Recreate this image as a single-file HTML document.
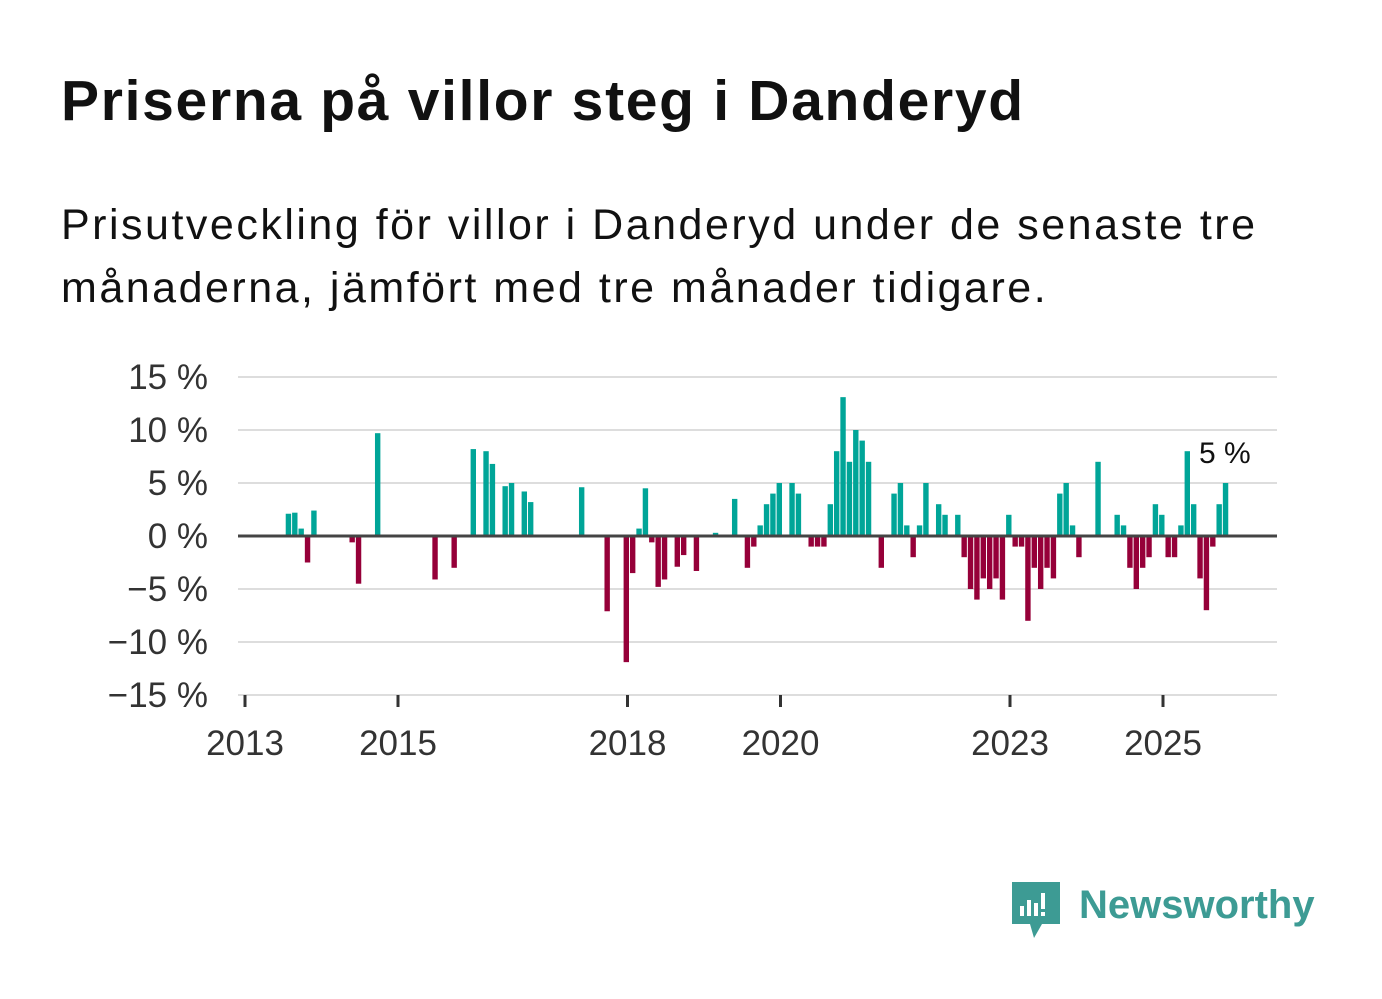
<!DOCTYPE html>
<html><head><meta charset="utf-8"><style>
body{margin:0;width:1382px;height:999px;background:#fff;font-family:"Liberation Sans",sans-serif;overflow:hidden}
h1{position:absolute;left:61px;top:68px;margin:0;font-size:57px;font-weight:bold;color:#111;letter-spacing:1.7px;white-space:nowrap}
p{position:absolute;left:61px;top:194px;margin:0;font-size:43px;line-height:63px;color:#111;width:1310px;letter-spacing:2.5px;white-space:nowrap}
svg{position:absolute;left:0;top:0}
</style></head><body>
<h1>Priserna på villor steg i Danderyd</h1>
<p>Prisutveckling för villor i Danderyd under de senaste tre<br>månaderna, jämfört med tre månader tidigare.</p>
<svg id="c" width="1382" height="999"></svg>
<script>
const months=[7,8,9,10,11,17,18,21,30,33,36,38,39,41,42,44,45,53,57,60,61,62,63,64,65,66,68,69,71,74,77,79,80,81,82,83,84,86,87,89,90,91,92,93,94,95,96,97,98,100,102,103,104,105,106,107,109,110,112,113,114,115,116,117,118,119,120,121,122,123,124,125,126,127,128,129,130,131,134,137,138,139,140,141,142,143,144,145,146,147,148,149,150,151,152,153,154];
const values=[2.1,2.2,0.7,-2.5,2.4,-0.6,-4.5,9.7,-4.1,-3,8.2,8,6.8,4.7,5,4.2,3.2,4.6,-7.1,-11.9,-3.5,0.7,4.5,-0.6,-4.8,-4.1,-2.9,-1.8,-3.3,0.3,3.5,-3,-1,1,3,4,5,5,4,-1,-1,-1,3,8,13.1,7,10,9,7,-3,4,5,1,-2,1,5,3,2,2,-2,-5,-6,-4,-5,-4,-6,2,-1,-1,-8,-3,-5,-3,-4,4,5,1,-2,7,2,1,-3,-5,-3,-2,3,2,-2,-2,1,8,3,-4,-7,-1,3,5];
const yTicks=[15,10,5,0,-5,-10,-15];
const yLabels=["15 %","10 %","5 %","0 %","\u22125 %","\u221210 %","\u221215 %"];
const xYears=[2013,2015,2018,2020,2023,2025];
const svg=document.getElementById('c');const NS='http://www.w3.org/2000/svg';
const y=v=>536-v*10.6;
const x=m=>245+m*6.375-1.2;
const xy=yr=>245+(yr-2013)*76.5;
function mk(t,a){const e=document.createElementNS(NS,t);for(const k in a)e.setAttribute(k,a[k]);svg.appendChild(e);return e;}
yTicks.forEach((v,i)=>{
 const l=mk('line',{x1:238,x2:1277,y1:y(v),y2:y(v),stroke:'#dddddd','stroke-width':2});
 
 
 const t=mk('text',{x:208,y:y(v)+12,'text-anchor':'end','font-size':35,fill:'#333','font-family':'Liberation Sans, sans-serif'});
 t.textContent=yLabels[i];
 
 
});
months.forEach((m,i)=>{
 const v=values[i];
 const r=mk('rect',{x:x(m)-2.7,width:5.4,y:v>=0?y(v):y(0),height:Math.abs(y(v)-y(0)),fill:v>=0?'#00a598':'#960039'});
 
 
});
const z=mk('line',{x1:238,x2:1277,y1:y(0),y2:y(0),stroke:'#444','stroke-width':3});


xYears.forEach(yr=>{
 const tk=mk('line',{x1:xy(yr),x2:xy(yr),y1:695,y2:707,stroke:'#333','stroke-width':3});
 
 
 const t=mk('text',{x:xy(yr),y:755,'text-anchor':'middle','font-size':35,fill:'#333','font-family':'Liberation Sans, sans-serif'});
 t.textContent=yr;
 
 
});
const an=mk('text',{x:1199,y:463,'font-size':30,fill:'#111','font-family':'Liberation Sans, sans-serif'});
an.textContent='5 %';


</script>
<svg width="1382" height="999" style="pointer-events:none">
<path d="M1012 882 h48 v42 h-18 l-8 14 l-4 -14 h-18 z" fill="#3d9b94"/>
<rect x="1020" y="906" width="4" height="10" fill="#fff"/><rect x="1027" y="900" width="4" height="16" fill="#fff"/><rect x="1034" y="903" width="4" height="13" fill="#fff"/><rect x="1041" y="893" width="4" height="16" fill="#fff"/><rect x="1041" y="912" width="4" height="4" fill="#fff"/>
<text x="1079" y="918" font-size="40" font-weight="bold" fill="#3d9b94" font-family="Liberation Sans, sans-serif">Newsworthy</text>
</svg>
</body></html>
